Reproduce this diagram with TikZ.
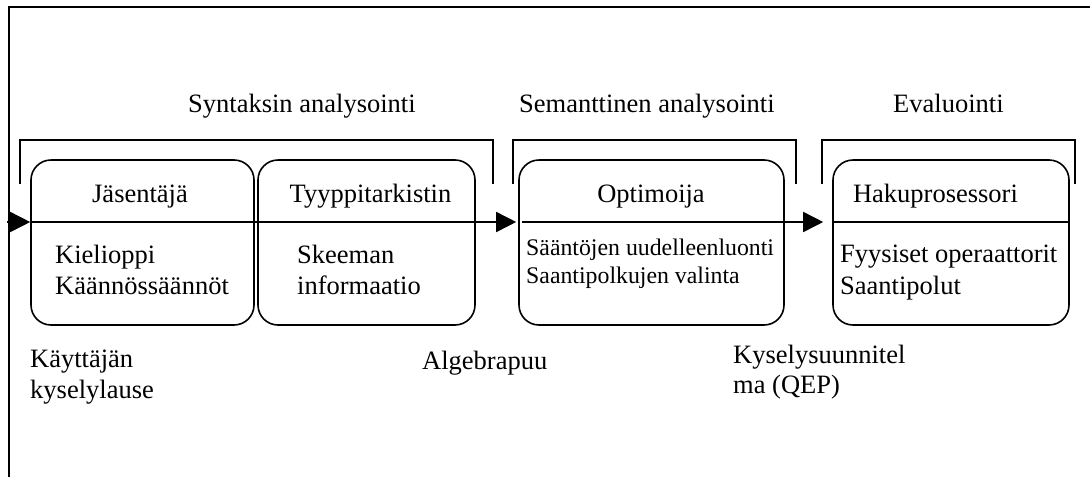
\documentclass[tikz,border=0pt]{standalone}
\usepackage{fontspec}
\setmainfont{Liberation Serif}
\usetikzlibrary{arrows.meta}
\begin{document}
\begin{tikzpicture}[x=1pt,y=-1pt,
  rule/.style={line width=1.8pt},
  stagebox/.style={draw, line width=1.6pt, rounded corners=20pt, inner sep=0pt,
                   minimum height=165pt},
  flow/.style={line width=1.6pt, -{Triangle[length=20pt,width=20pt]}},
  txt/.style={inner sep=0pt, anchor=base west, font=\fontsize{26.5}{30}\selectfont},
  ctxt/.style={txt, anchor=base},
  stxt/.style={txt, font=\fontsize{23.8}{28}\selectfont},
]
\useasboundingbox (0,0) rectangle (1090,477);

% outer frame (top and left edges only)
\draw[rule] (1090,7) -- (9,7) -- (9,477);

% phase brackets
\draw[rule] (20,184) -- (20,140) -- (493,140) -- (493,184);
\draw[rule] (513,184) -- (513,140) -- (796,140) -- (796,184);
\draw[rule] (822,184) -- (822,140) -- (1075,140) -- (1075,184);

% phase titles
\node[txt] (tsyn) at (188,112) {Syntaksin analysointi};
\node[txt] (tsem) at (519,112) {Semanttinen analysointi};
\node[txt] (teva) at (893,112) {Evaluointi};

% processing stages
\node[stagebox, minimum width=223pt] (jas) at (142.5,242.5) {};
\node[stagebox, minimum width=217pt] (tyy) at (366.5,242.5) {};
\node[stagebox, minimum width=265pt] (opt) at (651.5,242.5) {};
\node[stagebox, minimum width=236pt] (hak) at (951,242.5) {};

% data flow axis
\coordinate (axis) at (0,222);
\coordinate (entry) at (7,222);
\draw[flow] (entry) -- (jas.west |- axis);
\draw[flow, shorten >=2pt] (jas.west |- axis) -- (opt.west |- axis);
\draw[flow, shorten <=4pt, shorten >=9pt] (opt.west |- axis) -- (hak.west |- axis);
\draw[line width=1.6pt] (hak.west |- axis) -- (hak.east |- axis);

% stage names
\node[ctxt] (njas) at (140,202) {Jäsentäjä};
\node[ctxt] (ntyy) at (370.5,202) {Tyyppitarkistin};
\node[ctxt] (nopt) at (651,202) {Optimoija};
\node[ctxt] (nhak) at (935.5,202) {Hakuprosessori};

% stage resources
\node[txt] (rjas1) at (55,263) {Kielioppi};
\node[txt] (rjas2) at (55,294) {Käännössäännöt};
\node[txt] (rtyy1) at (297,263) {Skeeman};
\node[txt] (rtyy2) at (297,294) {informaatio};
\node[stxt] (ropt1) at (526,255) {Sääntöjen uudelleenluonti};
\node[stxt] (ropt2) at (526,283) {Saantipolkujen valinta};
\node[txt] (rhak1) at (840,262) {Fyysiset operaattorit};
\node[txt] (rhak2) at (840,294) {Saantipolut};

% intermediate results
\node[txt] (d1a) at (30,367) {Käyttäjän};
\node[txt] (d1b) at (30,398) {kyselylause};
\node[txt] (d2) at (422,369) {Algebrapuu};
\node[txt] (d3a) at (733,363) {Kyselysuunnitel};
\node[txt] (d3b) at (733,393) {ma (QEP)};
\end{tikzpicture}
\end{document}
